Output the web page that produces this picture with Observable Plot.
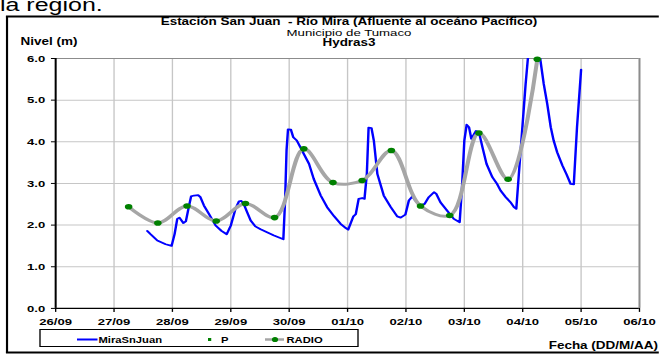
<!DOCTYPE html>
<html><head><meta charset="utf-8">
<script src="https://cdn.jsdelivr.net/npm/d3@7"></script>
<script src="https://cdn.jsdelivr.net/npm/@observablehq/plot@0.6"></script>
<style>
html,body{margin:0;padding:0;background:#fff;overflow:hidden;}
body{width:659px;height:354px;position:relative;font-family:"Liberation Sans",Arial,sans-serif;}
#wrap{position:absolute;left:0;top:0;width:488px;height:354px;transform:scaleX(1.35);transform-origin:0 0;}
#wrap > svg{position:absolute;left:0;top:0;}
</style></head><body><div id="wrap"></div>
<script>
// ---- data ----
const xTickLabels = ["26/09","27/09","28/09","29/09","30/09","01/10","02/10","03/10","04/10","05/10","06/10"];
const yTicks = [0,1,2,3,4,5,6];
// days since 26/09 00:00
const miraDay = [1.57,1.627,1.741,1.884,1.986,2.038,2.083,2.12,2.187,2.23,2.28,2.32,2.37,2.44,2.48,2.54,2.625,2.74,2.84,2.93,3.0,3.08,3.14,3.18,3.22,3.28,3.34,3.42,3.51,3.62,3.74,3.9,3.93,3.955,3.98,4.03,4.07,4.13,4.195,4.25,4.34,4.42,4.54,4.65,4.77,4.88,4.97,5.01,5.06,5.1,5.14,5.19,5.25,5.29,5.33,5.36,5.41,5.45,5.51,5.62,5.74,5.85,5.91,5.99,6.05,6.11,6.16,6.25,6.32,6.39,6.48,6.52,6.59,6.71,6.82,6.92,6.96,7.0,7.04,7.08,7.12,7.2,7.25,7.31,7.38,7.48,7.56,7.62,7.71,7.79,7.85,7.89,7.93,7.99,8.05,8.12,8.2,8.3,8.36,8.42,8.48,8.53,8.59,8.68,8.75,8.82,8.875,8.93,9.0];
const miraLevel = [1.86,1.78,1.63,1.54,1.5,1.79,2.15,2.18,2.05,2.09,2.43,2.69,2.71,2.72,2.67,2.47,2.27,1.99,1.86,1.78,1.99,2.39,2.57,2.58,2.51,2.31,2.11,1.97,1.9,1.83,1.75,1.66,2.6,3.8,4.3,4.29,4.11,4.03,3.86,3.71,3.47,3.11,2.71,2.43,2.21,2.03,1.93,1.89,2.07,2.21,2.26,2.63,2.65,2.63,3.23,4.34,4.33,4.03,3.23,2.71,2.43,2.21,2.18,2.25,2.59,2.69,2.59,2.47,2.51,2.67,2.79,2.75,2.55,2.34,2.15,2.07,2.91,4.03,4.41,4.35,4.07,4.26,4.23,3.87,3.47,3.15,2.99,2.83,2.67,2.55,2.43,2.39,3.15,4.27,5.39,6.5,6.8,5.99,5.39,4.91,4.35,4.03,3.75,3.43,3.22,2.99,2.98,4.35,5.73];
const radioDay = [1.25,1.75,2.25,2.75,3.25,3.75,4.25,4.75,5.25,5.75,6.25,6.75,7.25,7.75,8.25];
const radioLevel = [2.44,2.05,2.46,2.10,2.52,2.18,3.83,3.02,3.07,3.79,2.46,2.23,4.21,3.10,5.98];

const mira = miraDay.map((d,i)=>({day:d, level:miraLevel[i]}));
const radio = radioDay.map((d,i)=>({day:d, level:radioLevel[i]}));

const S = 1.35, W = 659/S;
const FONT = '"Liberation Sans",Arial,sans-serif';
const chart = Plot.plot({
  width: W, height: 354,
  marginLeft: 55/S, marginRight: W - 639/S, marginTop: 58, marginBottom: 46,
  style: {fontFamily: FONT, fontSize: "9.7px", fontWeight: "bold", color: "#000", background: "transparent", overflow: "visible"},
  x: {domain: [0,10]},
  y: {domain: [0,6]},
  marks: [
    Plot.gridX(d3.range(1,10), {stroke: "#c6c6c6", strokeOpacity: 1}),
    Plot.gridY(d3.range(1,6), {stroke: "#c6c6c6", strokeOpacity: 1}),
    Plot.ruleY([6], {stroke: "#8c8c8c", strokeWidth: 1.2}),
    Plot.ruleX([10], {stroke: "#8c8c8c", strokeWidth: 1.5}),
    Plot.axisX({ticks: d3.range(0,11), tickFormat: i => xTickLabels[i], tickSize: 4, tickPadding: 6, label: null}),
    Plot.axisY({ticks: yTicks, tickFormat: d3.format(".1f"), tickSize: 3, tickPadding: 4.7, label: null}),
    Plot.ruleX([0], {stroke: "#000", strokeWidth: 1.5}),
    Plot.ruleY([0], {stroke: "#000", strokeWidth: 1.3}),
    Plot.line(mira, {x: "day", y: "level", stroke: "#0000ff", strokeWidth: 1.8, clip: true}),
    Plot.line(radio, {x: "day", y: "level", stroke: "#a6a6a6", strokeWidth: 3, curve: "catmull-rom"}),
    Plot.dot(radio, {x: "day", y: "level", r: 2.8, fill: "#008000", stroke: null})
  ]
});
const wrap = document.getElementById("wrap");
wrap.appendChild(chart);

// ---- overlay: frame, titles, legend ----
const ov = d3.select(wrap).append("svg").attr("width", W).attr("height", 354)
  .style("font-family", FONT);
// outer border
ov.append("line").attr("x1", 5.2).attr("x2", 5.2).attr("y1", 16).attr("y2", 353).attr("stroke", "#000").attr("stroke-width", 1.6);
ov.append("line").attr("x1", 4.4).attr("x2", W + 10).attr("y1", 16.5).attr("y2", 16.5).attr("stroke", "#000").attr("stroke-width", 2);
ov.append("line").attr("x1", 4.4).attr("x2", W + 10).attr("y1", 352.5).attr("y2", 352.5).attr("stroke", "#000").attr("stroke-width", 2);

ov.append("text").attr("x", 0).attr("y", 11).attr("font-size", 18.5).text("la región.");

const cx = 349/S;
ov.append("text").attr("x", cx).attr("y", 25.5).attr("text-anchor", "middle").attr("font-size", 10).attr("font-weight", "bold")
  .text("Estación San Juan\u00a0 - Río Mira (Afluente al oceáno Pacífico)");
ov.append("text").attr("x", cx).attr("y", 36).attr("text-anchor", "middle").attr("font-size", 9.8).text("Municipio de Tumaco");
ov.append("text").attr("x", cx).attr("y", 46).attr("text-anchor", "middle").attr("font-size", 10).attr("font-weight", "bold").text("Hydras3");
ov.append("text").attr("x", 20.5/S).attr("y", 45).attr("font-size", 10).attr("font-weight", "bold").text("Nivel (m)");
ov.append("text").attr("x", 658/S).attr("y", 349).attr("text-anchor", "end").attr("font-size", 10).attr("font-weight", "bold").text("Fecha (DD/M/AA)");

// legend
const lg = ov.append("g");
lg.append("rect").attr("x", 40/S).attr("y", 329.5).attr("width", (358-40)/S).attr("height", 17).attr("fill", "#fff").attr("stroke", "#000").attr("stroke-width", 1);
lg.append("line").attr("x1", 77/S).attr("x2", 97.5/S).attr("y1", 339.5).attr("y2", 339.5).attr("stroke", "#0000ff").attr("stroke-width", 2);
lg.append("text").attr("x", 98.5/S).attr("y", 342.8).attr("font-size", 8.3).attr("font-weight", "bold").text("MiraSnJuan");
lg.append("rect").attr("x", 208/S).attr("y", 338).attr("width", 2.4).attr("height", 3).attr("fill", "#008000");
lg.append("text").attr("x", 221/S).attr("y", 342.8).attr("font-size", 8.3).attr("font-weight", "bold").text("P");
lg.append("line").attr("x1", 265/S).attr("x2", 284/S).attr("y1", 339.5).attr("y2", 339.5).attr("stroke", "#a6a6a6").attr("stroke-width", 2.5);
lg.append("ellipse").attr("cx", 275/S).attr("cy", 339.5).attr("rx", 2.3).attr("ry", 2.6).attr("fill", "#008000");
lg.append("text").attr("x", 286.5/S).attr("y", 342.8).attr("font-size", 8.3).attr("font-weight", "bold").text("RADIO");
</script>
</body></html>
